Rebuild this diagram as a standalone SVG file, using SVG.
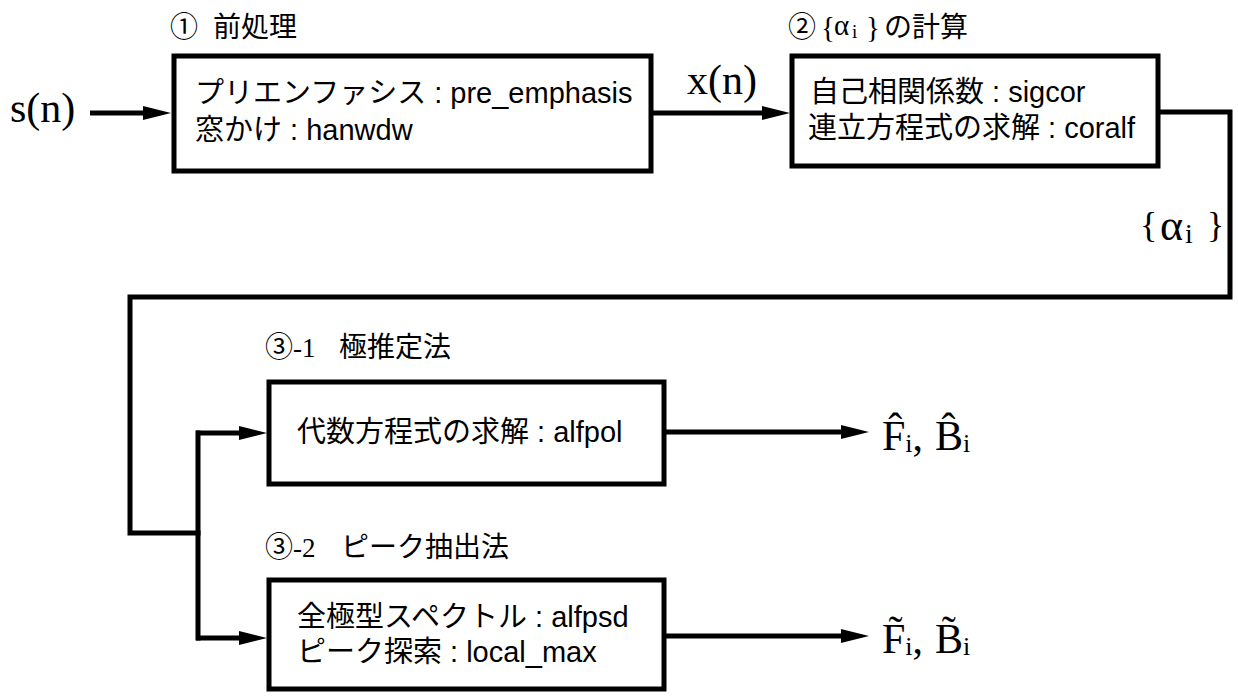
<svg xmlns="http://www.w3.org/2000/svg" width="1238" height="696" viewBox="0 0 1238 696">
<style>
.box{fill:#fff;stroke:#000;stroke-width:5}
.ln{fill:none;stroke:#000;stroke-width:5;stroke-linecap:square;stroke-linejoin:miter}
.ar{fill:none;stroke:#000;stroke-width:5;stroke-linecap:butt}
.t{font-family:"Liberation Sans","Noto Sans CJK JP",sans-serif;font-size:29px;fill:#000}
.lb{font-family:"Noto Sans CJK JP","Liberation Sans",sans-serif;font-size:28px;fill:#000}
.m{font-family:"Liberation Serif","DejaVu Serif",serif;fill:#000}
</style>
<defs>
<marker id="ah" markerUnits="userSpaceOnUse" markerWidth="28" markerHeight="14" refX="14" refY="7" orient="auto">
<path d="M0,0 L28,7 L0,14 z" fill="#000"/>
</marker>
</defs>
<rect width="1238" height="696" fill="#fff"/>

<g id="connectors">
<path class="ar" d="M90,113 H157" marker-end="url(#ah)"/>
<path class="ar" d="M652,113 H776" marker-end="url(#ah)"/>
<path class="ln" d="M1159,112 H1230 V297 H130 V533 H198"/>
<path class="ln" d="M198,433 V638"/>
<path class="ar" d="M196,433 H253" marker-end="url(#ah)"/>
<path class="ar" d="M196,638 H253" marker-end="url(#ah)"/>
<path class="ar" d="M664,432 H855" marker-end="url(#ah)"/>
<path class="ar" d="M664,636 H855" marker-end="url(#ah)"/>
</g>

<g id="input">
<text class="m" x="10" y="122" font-size="42">s(n)</text>
</g>

<g id="xn-label">
<text class="m" x="687" y="94" font-size="42">x(n)</text>
</g>

<g id="alpha-label">
<text class="m" x="1140" y="237" font-size="36">{<tspan x="1160" dy="3" font-size="44">α</tspan><tspan x="1185" dy="3" font-size="28">i</tspan><tspan x="1207" dy="-6">}</tspan></text>
</g>

<g id="node1">
<text class="lb" x="170" y="37">①<tspan x="213">前処理</tspan></text>
<rect class="box" x="174" y="56" width="477" height="115"/>
<text class="t" x="195" y="103">プリエンファシス : pre_emphasis</text>
<text class="t" x="195" y="140">窓かけ : hanwdw</text>
</g>

<g id="node2">
<text class="lb" x="788" y="37">②<tspan class="m" x="821" font-size="29">{</tspan><tspan class="m" x="834" dy="-2" font-size="29">α</tspan><tspan class="m" x="852" dy="3" font-size="19">i</tspan><tspan class="m" x="866" dy="-1" font-size="29">}</tspan><tspan x="884">の計算</tspan></text>
<rect class="box" x="792" y="56" width="366" height="110"/>
<text class="t" x="810" y="102">自己相関係数 : sigcor</text>
<text class="t" x="808" y="138">連立方程式の求解 : coralf</text>
</g>

<g id="node3">
<text class="lb" x="265" y="357">③<tspan font-family="Liberation Serif" font-size="27">-1</tspan><tspan x="339">極推定法</tspan></text>
<rect class="box" x="269" y="382" width="395" height="102"/>
<text class="t" x="297" y="442">代数方程式の求解 : alfpol</text>
</g>

<g id="node4">
<text class="lb" x="265" y="557">③<tspan font-family="Liberation Serif" font-size="27">-2</tspan><tspan x="341">ピーク抽出法</tspan></text>
<rect class="box" x="269" y="580" width="395" height="109"/>
<text class="t" x="297" y="627">全極型スペクトル : alfpsd</text>
<text class="t" x="297" y="662">ピーク探索 : local_max</text>
</g>

<g id="out1">
<text class="m" x="882" y="450" font-size="42">F̂<tspan dy="2" font-size="26">i</tspan><tspan dy="-2">,</tspan><tspan x="935">B̂</tspan><tspan dy="2" font-size="26">i</tspan></text>
</g>

<g id="out2">
<text class="m" x="882" y="653" font-size="42">F̃<tspan dy="2" font-size="26">i</tspan><tspan dy="-2">,</tspan><tspan x="935">B̃</tspan><tspan dy="2" font-size="26">i</tspan></text>
</g>
</svg>
